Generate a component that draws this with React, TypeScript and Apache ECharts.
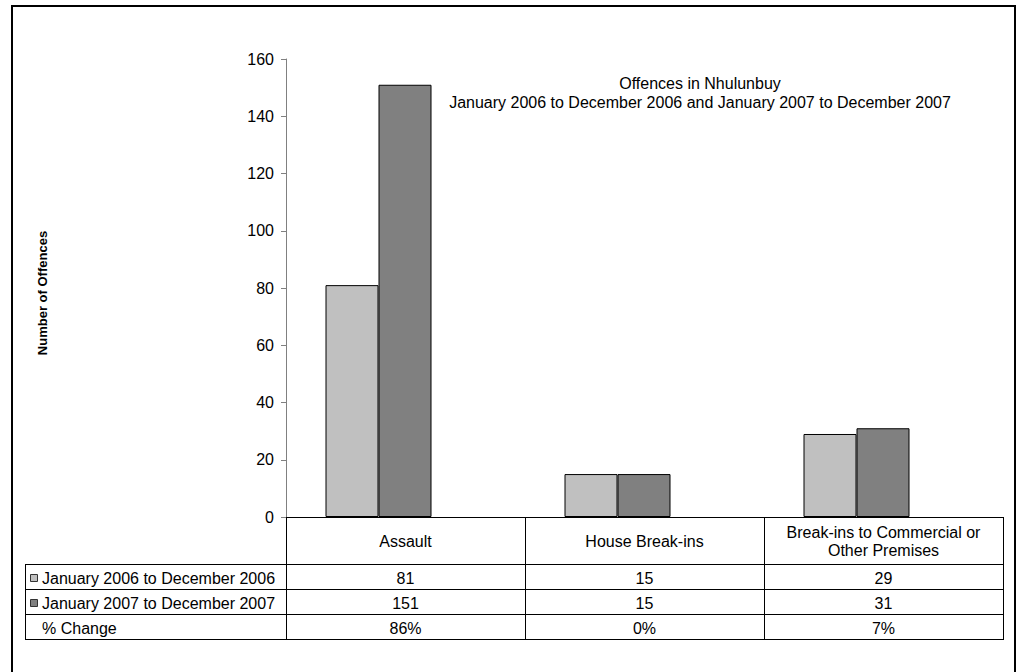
import React, { useEffect, useRef } from "react";
import * as echarts from "echarts";

const categories = ["Assault", "House Break-ins", "Break-ins to Commercial or\nOther Premises"];
const seriesNames = ["January 2006 to December 2006", "January 2007 to December 2007"];
const values2006 = [81, 15, 29];
const values2007 = [151, 15, 31];
const pctChange = ["86%", "0%", "7%"];
const pctLabel = "% Change";
const titleLines = ["Offences in Nhulunbuy", "January 2006 to December 2006 and January 2007 to December 2007"];
const yAxisName = "Number of Offences";
const colors = ["#C0C0C0", "#808080"];

const FONT = "Liberation Sans, Arial, sans-serif";

export default function App() {
  const ref = useRef<HTMLDivElement>(null);
  useEffect(() => {
    document.body.style.margin = "0";
    const chart = echarts.init(ref.current!, null, { renderer: "svg" });

    const plotLeft = 286;
    const plotRight = 1003;
    const plotTop = 59;
    const plotBottom = 517;
    const catW = (plotRight - plotLeft) / categories.length;
    const rowTops = [564, 589, 614, 639];
    const tableLeft = 25;
    const shift = 27;

    const g: any[] = [];
    // outer border
    g.push({ type: "rect", shape: { x: 12, y: 6, width: 1003, height: 720 }, style: { fill: "none", stroke: "#000", lineWidth: 2 }, silent: true });
    // title
    g.push({
      type: "text", x: 700, y: 74,
      style: { text: titleLines.join("\n"), align: "center", verticalAlign: "top", lineHeight: 19, font: `16px ${FONT}`, fill: "#000" },
    });
    // y axis name
    g.push({
      type: "text", x: 42, y: 293, rotation: Math.PI / 2,
      style: { text: yAxisName, align: "center", verticalAlign: "middle", font: `bold 13px ${FONT}`, fill: "#000" },
    });
    // table vertical lines
    for (let i = 0; i <= categories.length; i++) {
      const x = Math.round(plotLeft + catW * i) + 0.5;
      g.push({ type: "line", shape: { x1: x, y1: plotBottom, x2: x, y2: rowTops[3] + 0.5 }, style: { stroke: "#000", lineWidth: 1 } });
    }
    g.push({ type: "line", shape: { x1: tableLeft + 0.5, y1: rowTops[0], x2: tableLeft + 0.5, y2: rowTops[3] + 0.5 }, style: { stroke: "#000", lineWidth: 1 } });
    // horizontal lines
    rowTops.forEach((y) => {
      g.push({ type: "line", shape: { x1: tableLeft, y1: y + 0.5, x2: plotRight + 1, y2: y + 0.5 }, style: { stroke: "#000", lineWidth: 1 } });
    });
    // category labels
    categories.forEach((c, i) => {
      g.push({
        type: "text", x: plotLeft + catW * (i + 0.5), y: (plotBottom + rowTops[0]) / 2 + 1,
        style: { text: c, align: "center", verticalAlign: "middle", lineHeight: 18.5, font: `16px ${FONT}`, fill: "#000" },
      });
    });
    // rows
    const rows = [
      { label: seriesNames[0], color: colors[0], vals: values2006.map(String) },
      { label: seriesNames[1], color: colors[1], vals: values2007.map(String) },
      { label: pctLabel, color: null, vals: pctChange },
    ];
    rows.forEach((r, ri) => {
      const cy = (rowTops[ri] + rowTops[ri + 1]) / 2 + 1.5;
      if (r.color) {
        g.push({ type: "rect", shape: { x: 30.5, y: cy - 3.5, width: 7, height: 7 }, style: { fill: r.color, stroke: "#333", lineWidth: 1 } });
      }
      g.push({ type: "text", x: 42, y: cy, style: { text: r.label, align: "left", verticalAlign: "middle", font: `16px ${FONT}`, fill: "#000" } });
      r.vals.forEach((v, i) => {
        g.push({ type: "text", x: plotLeft + catW * (i + 0.5), y: cy, style: { text: v, align: "center", verticalAlign: "middle", font: `16px ${FONT}`, fill: "#000" } });
      });
    });

    const gridCommon = { top: plotTop, bottom: 672 - plotBottom, containLabel: false };
    chart.setOption({
      animation: false,
      grid: [
        { ...gridCommon, left: plotLeft, right: 1021 - plotRight },
        { ...gridCommon, left: plotLeft - shift, right: 1021 - plotRight + shift },
      ],
      xAxis: [
        {
          type: "category", gridIndex: 0, data: categories,
          axisLine: { lineStyle: { color: "#000", width: 1 } },
          axisTick: { show: false }, axisLabel: { show: false }, splitLine: { show: false },
        },
        {
          type: "category", gridIndex: 1, data: categories, show: false,
        },
      ],
      yAxis: [
        {
          type: "value", gridIndex: 0, min: 0, max: 160, interval: 20,
          axisLine: { show: true, lineStyle: { color: "#808080", width: 1 } },
          axisTick: { show: true, length: 5, lineStyle: { color: "#808080" } },
          axisLabel: { margin: 12, color: "#000", fontSize: 16, fontFamily: FONT },
          splitLine: { show: false },
        },
        { type: "value", gridIndex: 1, min: 0, max: 160, interval: 20, show: false, splitLine: { show: false } },
      ],
      series: [
        {
          type: "bar", name: seriesNames[0], xAxisIndex: 1, yAxisIndex: 1, data: values2006,
          barWidth: 53, barGap: "0%",
          itemStyle: { color: colors[0], borderColor: "#000", borderWidth: 1 },
        },
        {
          type: "bar", name: seriesNames[1], xAxisIndex: 1, yAxisIndex: 1, data: values2007,
          barWidth: 53, barGap: "0%",
          itemStyle: { color: colors[1], borderColor: "#000", borderWidth: 1 },
        },
      ],
      graphic: g,
    });
    return () => chart.dispose();
  }, []);
  return <div ref={ref} style={{ width: 1021, height: 672 }} />;
}
